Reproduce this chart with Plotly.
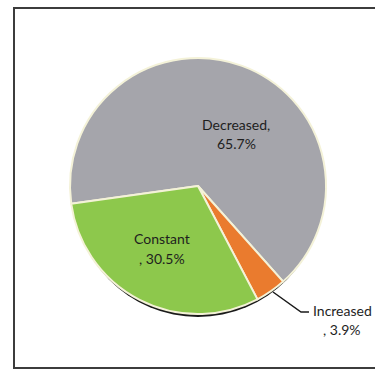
import plotly.graph_objects as go

# Share of respondents by change category
labels = ["Decreased", "Increased", "Constant"]
values = [65.7, 3.9, 30.5]
colors = ["#A5A5AB", "#EA7B2E", "#8DC84C"]
# where the comma falls when a data label wraps onto two lines
comma_on_first_line = [True, False, False]

W, H = 375, 370

def px_x(x):
    return x / W

def px_y(y):
    return 1 - y / H

# pie placement (pixel centre and radius)
cx, cy, r = 198, 186, 128

fig = go.Figure()
fig.add_trace(go.Pie(
    labels=labels,
    values=values,
    sort=False,
    direction="clockwise",
    rotation=262,
    textinfo="none",
    hoverinfo="label+percent",
    marker=dict(colors=colors, line=dict(color="#F4F2D8", width=2)),
    domain=dict(x=[px_x(cx - r), px_x(cx + r)], y=[px_y(cy + r), px_y(cy - r)]),
    showlegend=False,
))

font = dict(family="Lato, 'Open Sans', sans-serif", size=14, color="#1E1E1E")

# data label positions in pixels: (x of centre, y of first line)
label_pos = {"Decreased": (236, 124), "Constant": (162, 239), "Increased": (342, 310)}
line_gap = 19

annotations = []
for lab, val, first in zip(labels, values, comma_on_first_line):
    x, y = label_pos[lab]
    line1 = f"{lab}," if first else lab
    line2 = f"{val}%" if first else f", {val}%"
    for k, txt in enumerate([line1, line2]):
        annotations.append(dict(
            x=px_x(x), y=px_y(y + k * line_gap), xref="paper", yref="paper",
            text=txt, showarrow=False,
            font=font, align="center", xanchor="center", yanchor="middle",
        ))

shapes = [
    # chart frame
    dict(type="rect", xref="paper", yref="paper",
         x0=px_x(14), x1=px_x(382), y0=px_y(368), y1=px_y(8),
         line=dict(color="#3C3C3C", width=2), fillcolor="rgba(0,0,0,0)", layer="below"),
    # dark rim under the pie
    dict(type="circle", xref="paper", yref="paper",
         x0=px_x(cx - r + 2), x1=px_x(cx + r - 2), y0=px_y(cy + r + 3), y1=px_y(cy - r + 3),
         line=dict(width=0), fillcolor="#1A1A1A", layer="below"),
    # leader line to the small slice label
    dict(type="path", xref="paper", yref="paper",
         path=f"M {px_x(273)} {px_y(292)} L {px_x(301)} {px_y(312)} L {px_x(309)} {px_y(312)}",
         line=dict(color="#1A1A1A", width=1.5)),
]

fig.update_layout(
    width=W, height=H,
    margin=dict(l=0, r=0, t=0, b=0),
    paper_bgcolor="white", plot_bgcolor="white",
    annotations=annotations,
    shapes=shapes,
)

fig.write_html("out.html")
